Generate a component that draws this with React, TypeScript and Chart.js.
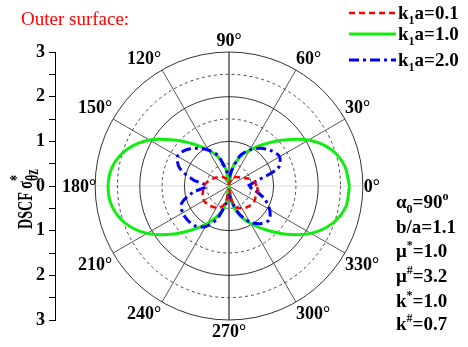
import { useEffect, useRef } from 'react';
import { Chart, registerables } from 'chart.js';

Chart.register(...registerables);

// ---------- data ----------
const angles = [0, 10, 20, 30, 40, 50, 60, 70, 80, 90, 100, 110, 120, 130, 140, 150, 160, 170, 180,
  190, 200, 210, 220, 230, 240, 250, 260, 270, 280, 290, 300, 310, 320, 330, 340, 350, 360];

const red01 = [0.62, 0.57, 0.48, 0.36, 0.30, 0.26, 0.22, 0.17, 0.10, 0.04, 0.10, 0.17, 0.22, 0.26, 0.30, 0.37, 0.42, 0.50, 0.56,
  0.59, 0.63, 0.65, 0.63, 0.60, 0.56, 0.50, 0.35, 0.08, 0.33, 0.52, 0.57, 0.62, 0.65, 0.66, 0.64, 0.66, 0.62];

const green10 = [2.70, 2.63, 2.42, 2.06, 1.60, 1.22, 0.93, 0.68, 0.38, 0.02, 0.38, 0.68, 0.93, 1.22, 1.60, 2.06, 2.42, 2.64, 2.71,
  2.66, 2.46, 2.12, 1.68, 1.28, 0.97, 0.70, 0.39, 0.02, 0.39, 0.70, 0.97, 1.28, 1.68, 2.12, 2.46, 2.66, 2.70];

const blue20 = [0.42, 0.62, 1.17, 1.31, 1.23, 1.10, 0.93, 0.72, 0.36, 0.20, 0.36, 0.72, 0.93, 1.10, 1.26, 1.33, 1.18, 0.82, 0.50,
  0.82, 1.13, 1.20, 1.20, 1.17, 1.05, 0.78, 0.40, 0.20, 0.36, 0.66, 0.93, 1.10, 1.18, 1.05, 0.85, 0.60, 0.42];

const seriesNames = ['a=0.1', 'a=1.0', 'a=2.0'];
const radialTicks = [0.5, 1, 1.5, 2, 2.5, 3];
const angleTicks = [0, 30, 60, 90, 120, 150, 180, 210, 240, 270, 300, 330];
const yMin = -3;
const yMax = 3;
const titleText = 'Outer surface:';

type Part = { t: string; k: 'n' | 'sub' | 'sup' | 'supstack' };
const paramLines: Part[][] = [
  [{ t: 'α', k: 'n' }, { t: '0', k: 'sub' }, { t: '=90', k: 'n' }, { t: 'o', k: 'sup' }],
  [{ t: 'b/a=1.1', k: 'n' }],
  [{ t: 'μ', k: 'n' }, { t: '*', k: 'sup' }, { t: '=1.0', k: 'n' }],
  [{ t: 'μ', k: 'n' }, { t: '#', k: 'sup' }, { t: '=3.2', k: 'n' }],
  [{ t: 'k', k: 'n' }, { t: '*', k: 'sup' }, { t: '=1.0', k: 'n' }],
  [{ t: 'k', k: 'n' }, { t: '#', k: 'sup' }, { t: '=0.7', k: 'n' }],
];
const yTitle: Part[] = [{ t: 'DSCF σ', k: 'n' }, { t: '*', k: 'supstack' }, { t: 'θz', k: 'sub' }];

const FONT = '"Liberation Serif", "Times New Roman", serif';

Chart.defaults.font.family = FONT;
Chart.defaults.font.weight = 'bold' as any;

function toXY(r: number[]) {
  return angles.map((a, i) => ({
    x: r[i] * Math.cos((a * Math.PI) / 180),
    y: r[i] * Math.sin((a * Math.PI) / 180),
  }));
}

function drawRich(ctx: CanvasRenderingContext2D, parts: Part[], x: number, y: number, size: number, ratio = 0.62) {
  let cx = x;
  for (const p of parts) {
    const small = p.k !== 'n';
    const s = small ? Math.round(size * ratio) : size;
    ctx.font = `bold ${s}px ${FONT}`;
    let dy = 0;
    if (p.k === 'sub') dy = size * 0.25;
    if (p.k === 'sup' || p.k === 'supstack') dy = -size * 0.4;
    ctx.fillText(p.t, cx, y + dy);
    if (p.k !== 'supstack') cx += ctx.measureText(p.t).width;
  }
}

const decor = {
  id: 'polarDecor',
  beforeDatasetsDraw(chart: any) {
    const { ctx } = chart;
    const xs = chart.scales.x;
    const ys = chart.scales.y;
    const cx = xs.getPixelForValue(0);
    const cy = ys.getPixelForValue(0);
    const ux = xs.getPixelForValue(1) - cx;
    const uy = cy - ys.getPixelForValue(1);
    const rMax = radialTicks[radialTicks.length - 1];
    ctx.save();
    ctx.lineWidth = 1;
    for (const a of angleTicks) {
      const rad = (a * Math.PI) / 180;
      ctx.strokeStyle = a % 180 === 90 ? '#000' : a % 180 === 0 ? '#dcdcdc' : '#555';
      ctx.beginPath();
      ctx.moveTo(cx, cy);
      ctx.lineTo(cx + rMax * ux * Math.cos(rad), cy - rMax * uy * Math.sin(rad));
      ctx.stroke();
    }
    for (const r of radialTicks) {
      const half = r % 1 !== 0;
      ctx.setLineDash(half ? [3, 3] : []);
      ctx.strokeStyle = half ? '#444' : '#333';
      ctx.beginPath();
      ctx.ellipse(cx, cy, r * ux, r * uy, 0, 0, Math.PI * 2);
      ctx.stroke();
    }
    ctx.restore();
  },
  afterDraw(chart: any) {
    const { ctx } = chart;
    const xs = chart.scales.x;
    const ys = chart.scales.y;
    const cx = xs.getPixelForValue(0);
    const cy = ys.getPixelForValue(0);
    const ux = xs.getPixelForValue(1) - cx;
    const uy = cy - ys.getPixelForValue(1);
    const rMax = radialTicks[radialTicks.length - 1];
    ctx.save();
    ctx.fillStyle = '#000';
    ctx.font = `bold 18px ${FONT}`;
    ctx.textBaseline = 'middle';
    for (const a of angleTicks) {
      const rad = (a * Math.PI) / 180;
      const c = Math.cos(rad);
      const s = Math.sin(rad);
      const px = cx + rMax * ux * c;
      const py = cy - rMax * uy * s;
      let x = px;
      if (c > 0.01) { ctx.textAlign = 'left'; x = px + (c > 0.99 ? 1 : 0); }
      else if (c < -0.01) { ctx.textAlign = 'right'; x = px + (c < -0.99 ? 1 : -1); }
      else ctx.textAlign = 'center';
      const y = s > 0.01 ? py - 11 : s < -0.01 ? py + 12 : py + 1;
      ctx.fillText(`${a}°`, x, y);
    }

    // title
    ctx.textAlign = 'left';
    ctx.textBaseline = 'alphabetic';
    ctx.fillStyle = '#ff0000';
    ctx.font = `19px ${FONT}`;
    ctx.fillText(titleText, 21, 25);

    // legend
    const ds = chart.data.datasets;
    const rows = [13, 34, 60];
    ds.forEach((d: any, i: number) => {
      const yy = rows[i];
      ctx.save();
      ctx.strokeStyle = d.borderColor;
      ctx.lineWidth = d.borderWidth;
      ctx.setLineDash(d.borderDash || []);
      ctx.beginPath();
      ctx.moveTo(349, yy);
      ctx.lineTo(396, yy);
      ctx.stroke();
      ctx.restore();
      ctx.fillStyle = '#000';
      drawRich(ctx, [{ t: 'k', k: 'n' }, { t: '1', k: 'sub' }, { t: seriesNames[i], k: 'n' }], 398, yy + 6, 19);
    });

    // parameters
    ctx.fillStyle = '#000';
    const py0 = [208, 233, 257, 282, 307, 330];
    paramLines.forEach((p, i) => drawRich(ctx, p, 396, py0[i], 19));

    // y title
    ctx.save();
    ctx.translate(32, 229);
    ctx.rotate(-Math.PI / 2);
    ctx.scale(0.64, 1);
    drawRich(ctx, yTitle, 0, 0, 22, 0.85);
    ctx.restore();
    ctx.restore();
  },
};

export default function App() {
  const ref = useRef<HTMLCanvasElement>(null);
  useEffect(() => {
    document.body.style.margin = '0';
    const chart = new Chart(ref.current!, {
      type: 'scatter',
      data: {
        datasets: [
          { label: 'k1a=0.1', data: toXY(red01), borderColor: '#ff0000', borderWidth: 2.5, borderDash: [6, 4], showLine: true, pointRadius: 0, tension: 0.3, order: 0 },
          { label: 'k1a=1.0', data: toXY(green10), borderColor: '#10ee10', borderWidth: 3, borderDash: [], showLine: true, pointRadius: 0, tension: 0.3, order: 2 },
          { label: 'k1a=2.0', data: toXY(blue20), borderColor: '#0000ff', borderWidth: 3, borderDash: [10, 4, 3, 4], showLine: true, pointRadius: 0, tension: 0.3, order: 1 },
        ],
      },
      options: {
        animation: false,
        responsive: true,
        maintainAspectRatio: false,
        layout: { padding: { top: 52, bottom: 27, left: 0, right: 65 } },
        plugins: { legend: { display: false }, tooltip: { enabled: false }, title: { display: false } },
        scales: {
          x: { type: 'linear', min: -3.9, max: 3.9, display: false },
          y: {
            type: 'linear',
            min: yMin,
            max: yMax,
            position: 'left',
            afterFit: (s: any) => { s.width = 55; },
            ticks: {
              stepSize: 0.5,
              autoSkip: false,
              padding: 4,
              color: '#000',
              font: { family: FONT, size: 18, weight: 'bold' },
              callback: (v: any) => (Number.isInteger(v) ? String(Math.abs(v)) : ''),
            },
            grid: { drawOnChartArea: false, drawTicks: true, tickLength: 6, tickColor: '#000', tickWidth: 1 },
            border: { display: true, color: '#000', width: 1 },
          },
        },
      },
      plugins: [decor],
    } as any);
    return () => chart.destroy();
  }, []);
  return (
    <div style={{ width: 468, height: 347, position: 'relative', background: '#fff' }}>
      <canvas ref={ref} />
    </div>
  );
}
